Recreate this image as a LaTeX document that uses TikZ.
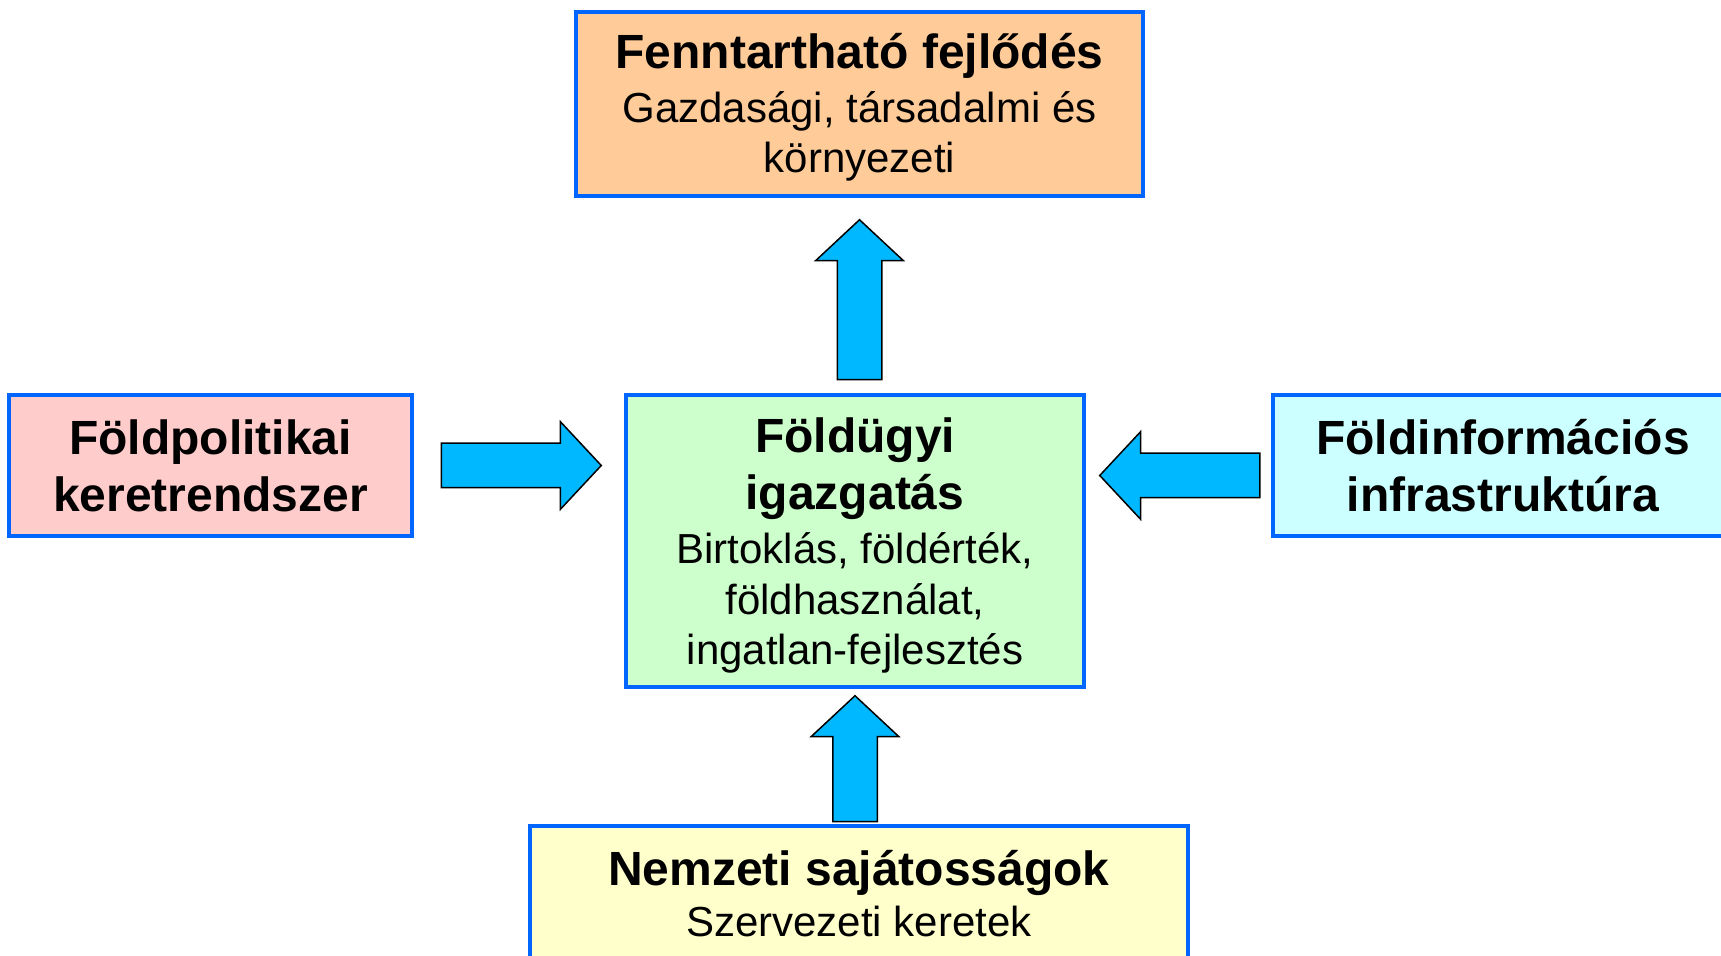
\documentclass[tikz,border=0pt]{standalone}
\usepackage{fontspec}
\setmainfont{Liberation Sans}
\usepackage{tikz}
\usetikzlibrary{shapes.arrows, calc}

\definecolor{boxblue}{RGB}{0,102,255}
\definecolor{arrowblue}{RGB}{0,184,255}
\definecolor{futfill}{RGB}{255,204,153}
\definecolor{polfill}{RGB}{255,204,204}
\definecolor{admfill}{RGB}{204,255,204}
\definecolor{inffill}{RGB}{204,255,255}
\definecolor{natfill}{RGB}{255,255,204}

\newcommand{\boxtitle}[1]{{\bfseries\fontsize{24}{25.25}\selectfont #1}}

\tikzset{
    box/.style={draw=boxblue, line width=1.75pt, align=center, inner sep=0pt,
        font=\fontsize{21}{25.25}\selectfont},
    blockarrow/.style={single arrow, draw=black, line width=0.75pt, fill=arrowblue,
        minimum height=80pt, minimum width=43pt, single arrow head extend=10.75pt,
        single arrow tip angle=94, inner xsep=0pt, inner ysep=10.75pt, outer sep=0pt,
        anchor=tip}
}

\begin{document}
\begin{tikzpicture}[x=0.5pt, y=-0.5pt]
    \useasboundingbox (0,0) rectangle (1721,956);
    \clip (0,0) rectangle (1721,956);

    % boxes
    \node[box, fill=futfill, minimum width=283.5pt, minimum height=92pt] (fut) at (859.5,104)
        {\rule{0pt}{21pt}\boxtitle{Fenntartható fejlődés}\\[1.75pt] Gazdasági, társadalmi és\\ környezeti};
    \node[box, fill=polfill, minimum width=201.5pt, minimum height=70.5pt] (pol) at (210.5,465.5)
        {\boxtitle{Földpolitikai}\\[3.25pt] \boxtitle{keretrendszer}};
    \node[box, fill=admfill, minimum width=229pt, minimum height=146pt] (adm) at (855,541)
        {\rule{0pt}{22pt}\boxtitle{Földügyi}\\[3.25pt] \boxtitle{igazgatás}\\[1.75pt] Birtoklás, földérték,\\ földhasználat,\\ ingatlan-fejlesztés};
    \node[box, fill=inffill, minimum width=230pt, minimum height=70.5pt] (inf) at (1503,465.5)
        {\boxtitle{Földinformációs}\\[3.25pt] \boxtitle{infrastruktúra}};
    \node[box, fill=natfill, minimum width=329pt, minimum height=69.5pt] (nat) at (859,895.5)
        {\boxtitle{Nemzeti sajátosságok}\\[0.2pt] Szervezeti keretek\rule[-2.2pt]{0pt}{2.2pt}};

    % arrows
    \node[blockarrow, rotate=90] (a1) at ($(fut.south)+(0,22)$) {};
    \node[blockarrow] (a2) at ($(adm.west |- pol.east)+(-23,0)$) {};
    \node[blockarrow, rotate=180] (a3) at ($(adm.east |- inf.west)+(14,10)$) {};
    \node[blockarrow, rotate=90, minimum height=63pt] (a4) at ($(adm.south)+(0,7)$) {};
\end{tikzpicture}
\end{document}
